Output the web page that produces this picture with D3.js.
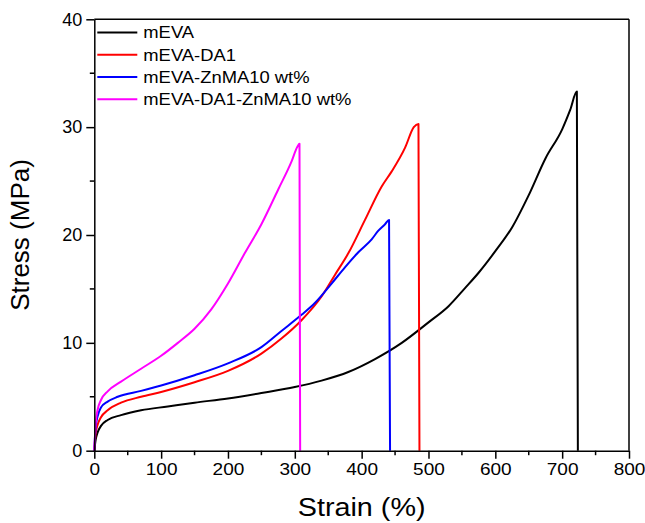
<!DOCTYPE html>
<html>
<head>
<meta charset="utf-8">
<script src="https://cdn.jsdelivr.net/npm/d3@7"></script>
<style>
  body { margin: 0; background: #fff; }
  text { font-family: "Liberation Sans", Arial, sans-serif; fill: #000; }
</style>
</head>
<body>
<div id="chart"></div>
<script>
// series data: strain (%) / stress (MPa)
var names = ["mEVA", "mEVA-DA1", "mEVA-ZnMA10 wt%", "mEVA-DA1-ZnMA10 wt%"];
var colors = ["#000000", "#ff0000", "#0000ff", "#ff00ff"];

var strainEVA  = [0, 2, 5, 10, 20, 40, 70, 110, 150, 200, 250, 300, 340, 380, 420, 460, 500, 530, 555, 575, 600, 625, 650, 675, 700, 712, 722, 723.5];
var stressEVA  = [0, 1.0, 1.7, 2.3, 2.85, 3.3, 3.75, 4.1, 4.45, 4.85, 5.35, 5.9, 6.5, 7.3, 8.5, 10.0, 11.9, 13.4, 15.1, 16.5, 18.5, 20.7, 23.7, 27.1, 29.8, 31.6, 33.3, 0];

var strainDA1  = [0, 2, 5, 10, 20, 40, 70, 100, 150, 200, 250, 280, 310, 340, 360, 380, 405, 430, 445, 465, 478, 485, 486.5];
var stressDA1  = [0, 1.6, 2.4, 3.1, 3.75, 4.45, 5.0, 5.45, 6.35, 7.4, 9.0, 10.4, 12.1, 14.3, 16.3, 18.3, 21.4, 24.5, 25.9, 28.1, 30.0, 30.3, 0];

var strainZn   = [0, 2, 5, 10, 20, 35, 70, 100, 150, 200, 250, 280, 310, 330, 355, 375, 395, 415, 425, 435, 441, 442.5];
var stressZn   = [0, 2.2, 3.2, 4.0, 4.55, 5.0, 5.55, 6.05, 7.0, 8.1, 9.6, 11.1, 12.6, 13.7, 15.5, 17.0, 18.4, 19.6, 20.4, 21.0, 21.4, 0];

var strainDAZn = [0, 2, 5, 10, 20, 40, 70, 100, 125, 150, 175, 200, 225, 250, 275, 295, 304, 307, 308];
var stressDAZn = [0, 2.5, 3.8, 4.7, 5.5, 6.4, 7.6, 8.8, 10.0, 11.3, 13.1, 15.5, 18.3, 21.0, 24.2, 26.8, 28.2, 28.45, 0];

var xTicks = [0, 100, 200, 300, 400, 500, 600, 700, 800];
var yTicks = [0, 10, 20, 30, 40];

var series = [
  { x: strainEVA, y: stressEVA },
  { x: strainDA1, y: stressDA1 },
  { x: strainZn, y: stressZn },
  { x: strainDAZn, y: stressDAZn }
];

var margin = {top: 19.3, right: 16, bottom: 72.3, left: 94.3}
  , width = 645 - margin.left - margin.right
  , height = 523 - margin.top - margin.bottom;

var xScale = d3.scaleLinear().domain([0, 800]).range([0, width]);
var yScale = d3.scaleLinear().domain([0, 40]).range([height, 0]);

var svg = d3.select("#chart").append("svg")
  .attr("width", 645)
  .attr("height", 523)
  .append("g")
  .attr("transform", "translate(" + margin.left + "," + margin.top + ")");

// minor ticks first
var xMinor = d3.range(50, 800, 100);
var yMinor = d3.range(5, 40, 10);
svg.selectAll(".xminor").data(xMinor).enter().append("line")
  .attr("x1", function(d) { return xScale(d); })
  .attr("x2", function(d) { return xScale(d); })
  .attr("y1", height).attr("y2", height + 4.5)
  .attr("stroke", "#000").attr("stroke-width", 1.5);
svg.selectAll(".yminor").data(yMinor).enter().append("line")
  .attr("y1", function(d) { return yScale(d); })
  .attr("y2", function(d) { return yScale(d); })
  .attr("x1", 0).attr("x2", -4.5)
  .attr("stroke", "#000").attr("stroke-width", 1.5);

// the curves
var lineGen = d3.line()
  .x(function(d) { return xScale(d[0]); })
  .y(function(d) { return yScale(d[1]); })
  .curve(d3.curveMonotoneX);

series.forEach(function(s, i) {
  var pts = s.x.map(function(v, k) { return [v, s.y[k]]; });
  svg.append("path")
    .datum(pts)
    .attr("d", lineGen)
    .attr("fill", "none")
    .attr("stroke", colors[i])
    .attr("stroke-width", 2)
    .attr("stroke-linejoin", "round");
});

// axes
var xAxis = svg.append("g")
  .attr("transform", "translate(0," + height + ")")
  .call(d3.axisBottom(xScale).tickValues(xTicks).tickSize(8).tickPadding(4).tickSizeOuter(0));
var yAxis = svg.append("g")
  .call(d3.axisLeft(yScale).tickValues(yTicks).tickSize(8).tickPadding(4).tickSizeOuter(0));

[xAxis, yAxis].forEach(function(ax) {
  ax.selectAll("path").attr("stroke", "#000").attr("stroke-width", 1.5);
  ax.selectAll("line").attr("stroke", "#000").attr("stroke-width", 1.5);
  ax.selectAll("text")
    .style("font-family", "'Liberation Sans', Arial, sans-serif")
    .style("font-size", "18px")
    .attr("fill", "#000");
});
// x labels look a bit wider in the original
xAxis.selectAll(".tick text")
  .style("font-size", "17px")
  .attr("transform", "scale(1.12,1)")
  .attr("x", 0);

// frame top/right
svg.append("line").attr("x1", 0).attr("x2", width).attr("y1", 0).attr("y2", 0)
  .attr("stroke", "#000").attr("stroke-width", 1.5);
svg.append("line").attr("x1", width).attr("x2", width).attr("y1", 0).attr("y2", height)
  .attr("stroke", "#000").attr("stroke-width", 1.5);

// axis titles
svg.append("text")
  .attr("transform", "translate(" + (width / 2) + "," + (height + 65) + ") scale(1.15,1)")
  .attr("text-anchor", "middle")
  .style("font-size", "25px")
  .text("Strain (%)");
svg.append("text")
  .attr("transform", "translate(" + (-65) + "," + (height / 2) + ") rotate(-90)")
  .attr("text-anchor", "middle")
  .style("font-size", "26px")
  .text("Stress (MPa)");

// legend
var legend = svg.append("g").attr("transform", "translate(3,13.3)");
names.forEach(function(n, i) {
  var g = legend.append("g").attr("transform", "translate(0," + (i * 22.2) + ")");
  g.append("line").attr("x1", 0).attr("x2", 40).attr("y1", 0).attr("y2", 0)
    .attr("stroke", colors[i]).attr("stroke-width", 2);
  g.append("text").attr("transform", "translate(46,0) scale(1.15,1)").attr("dy", "0.36em")
    .style("font-size", "16px").text(n);
});
</script>
</body>
</html>
